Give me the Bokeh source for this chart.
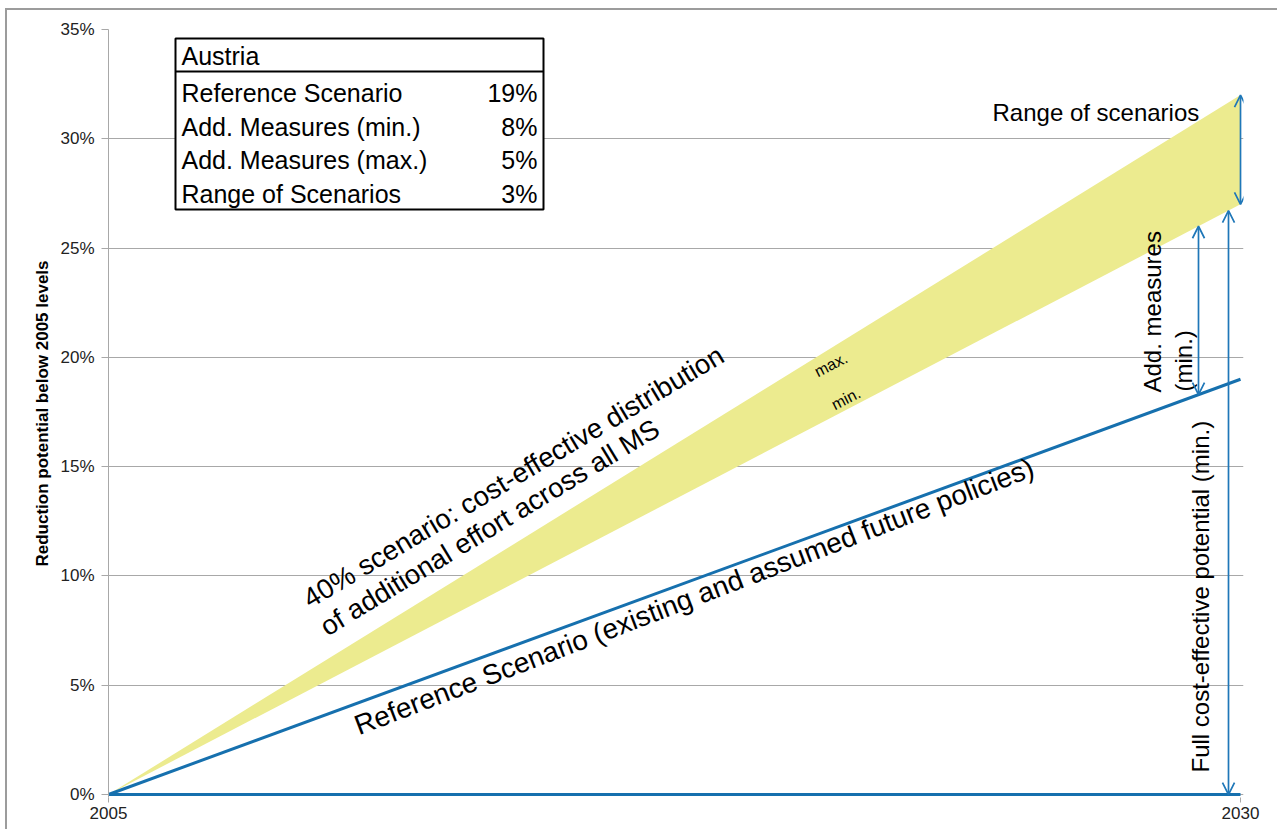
import math

from bokeh.plotting import figure
from bokeh.models import Range1d, FixedTicker, Arrow, OpenHead
from bokeh.core.properties import value
from bokeh.embed import file_html
from bokeh.resources import INLINE

# --- data -------------------------------------------------------------
years = [2005, 2030]
reference = [0, 19]          # Reference Scenario (% reduction below 2005)
measures_min = [0, 27]       # reference + additional measures (min.)
measures_max = [0, 32]       # reference + additional measures (max.)
baseline = [0, 0]

y_ticks = [0, 5, 10, 15, 20, 25, 30, 35]
x_ticks = [2005, 2030]

table_title = "Austria"
table_rows = ["Reference Scenario", "Add. Measures (min.)",
              "Add. Measures (max.)", "Range of Scenarios"]
table_values = ["19%", "8%", "5%", "3%"]

# --- styling ------------------------------------------------------------
FONT = "Liberation Sans"
BLUE = "#1670AE"
ARROW_BLUE = "#1F77B8"
BAND = "#ECEB8F"
GRID = "#A8A8A8"

X0, X1 = 2005, 2030
PX_PER_YEAR = 1132.0 / (X1 - X0)
Y0, Y1 = -0.137, 35


def at(px, py):
    """Page pixel position -> data coordinates (2005 at x=108, 2030 at x=1240, 0% at y=794, 35% at y=29)."""
    return X0 + (px - 108) / PX_PER_YEAR, (794 - py) * 35.0 / 765.0


def interp(series, x):
    f = (x - years[0]) / (years[1] - years[0])
    return series[0] + f * (series[1] - series[0])


p = figure(width=1272, height=821, output_backend="svg", toolbar_location=None,
           x_range=Range1d(X0, X1 + 3 / PX_PER_YEAR), y_range=Range1d(Y0, Y1),
           min_border_left=101, min_border_right=36,
           min_border_top=19, min_border_bottom=34)
p.styles = {"margin-left": "5px", "margin-top": "8px",
            "border-left": "2px solid #9C9C9C", "border-top": "2px solid #9C9C9C"}
p.outline_line_color = None
p.background_fill_color = "white"
p.border_fill_color = "white"

# axes
p.yaxis.ticker = FixedTicker(ticks=y_ticks)
p.yaxis.major_label_overrides = {t: f"{t}%" for t in y_ticks}
p.yaxis.axis_label = "Reduction potential below 2005 levels"
p.yaxis.axis_label_text_font = FONT
p.yaxis.axis_label_text_font_style = "bold"
p.yaxis.axis_label_text_font_size = "17px"
p.yaxis.axis_label_text_color = "black"
p.yaxis.axis_label_standoff = 5
p.yaxis.major_label_text_font = FONT
p.yaxis.major_label_text_font_size = "17px"
p.yaxis.major_label_text_color = "#222222"
p.yaxis.major_label_standoff = 7
p.yaxis.major_tick_out = 7
p.yaxis.major_tick_in = 0
p.yaxis.minor_tick_line_color = None
p.yaxis.axis_line_color = GRID
p.yaxis.major_tick_line_color = GRID

p.xaxis.ticker = FixedTicker(ticks=x_ticks)
p.xaxis.major_label_overrides = {t: str(t) for t in x_ticks}
p.xaxis.major_label_text_font = FONT
p.xaxis.major_label_text_font_size = "17px"
p.xaxis.major_label_text_color = "#222222"
p.xaxis.major_label_standoff = 4
p.xaxis.major_tick_out = 5
p.xaxis.major_tick_in = 0
p.xaxis.minor_tick_line_color = None
p.xaxis.axis_line_color = None
p.xaxis.major_tick_line_color = GRID

p.xgrid.grid_line_color = None
p.ygrid.grid_line_color = GRID
p.ygrid.grid_line_width = 1

# scenario band, reference line and zero line
p.varea(x=years, y1=measures_min, y2=measures_max, fill_color=BAND)
p.line(years, reference, line_color=BLUE, line_width=3)
p.line(years, baseline, line_color=BLUE, line_width=3)

# summary table
tl, tt = at(175, 38)
tr, tb = at(543, 209)
_, th = at(0, 71)
p.quad(left=[tl], right=[tr], top=[tt], bottom=[tb],
       fill_color="white", line_color="black", line_width=2)
p.segment(x0=[tl], y0=[th], x1=[tr], y1=[th], line_color="black", line_width=2)

tx, ty = at(181, 55)
p.text(x=[tx], y=[ty], text=[table_title], text_font=value(FONT),
       text_font_size=value("25px"), text_baseline="middle", text_align="left",
       text_color="black")
row_y = [at(0, 92.5 + 33.6 * i)[1] for i in range(len(table_rows))]
p.text(x=[tx] * len(table_rows), y=row_y, text=table_rows, text_font=value(FONT),
       text_font_size=value("25px"), text_baseline="middle", text_align="left",
       text_color="black")
vx, _ = at(537, 0)
p.text(x=[vx] * len(table_values), y=row_y, text=table_values, text_font=value(FONT),
       text_font_size=value("25px"), text_baseline="middle", text_align="right",
       text_color="black")


def label(text, pos, size, angle_deg=0.0, align="left", baseline_="alphabetic"):
    x, y = at(*pos)
    p.text(x=[x], y=[y], text=[text], angle=math.radians(angle_deg),
           text_font=value(FONT), text_font_size=value(size),
           text_align=align, text_baseline=baseline_, text_color="black")


label("40% scenario: cost-effective distribution", (305, 600), "27.5px", 30.8)
label("of additional effort across all MS", (322, 628), "27.5px", 31.2)
label("Reference Scenario (existing and assumed future policies)", (355, 726), "28px", 21)
label("max.", (815, 372), "16px", 27)
label("min.", (832, 405), "16px", 27)
label("Range of scenarios", (992, 112), "24px", 0, baseline_="middle")
label("Add. measures", (1152, 392), "24px", 90, baseline_="middle")
label("(min.)", (1183, 391), "24px", 90, baseline_="middle")
label("Full cost-effective potential (min.)", (1200, 772), "24px", 90, baseline_="middle")


# double-headed arrows
def double_arrow(x, y_lo, y_hi):
    head = dict(size=12, line_color=ARROW_BLUE, line_width=1.7)
    p.add_layout(Arrow(start=OpenHead(**head), end=OpenHead(**head),
                       x_start=x, y_start=y_lo, x_end=x, y_end=y_hi,
                       line_color=ARROW_BLUE, line_width=1.7))


x_range_arrow = 2030.0
double_arrow(x_range_arrow, interp(measures_min, x_range_arrow), interp(measures_max, x_range_arrow))
x_add = at(1198, 0)[0]
double_arrow(x_add, interp(reference, x_add), interp(measures_min, x_add))
x_full = at(1228, 0)[0]
double_arrow(x_full, 0, interp(measures_min, x_full))

open("out.html", "w").write(file_html(p, INLINE))
